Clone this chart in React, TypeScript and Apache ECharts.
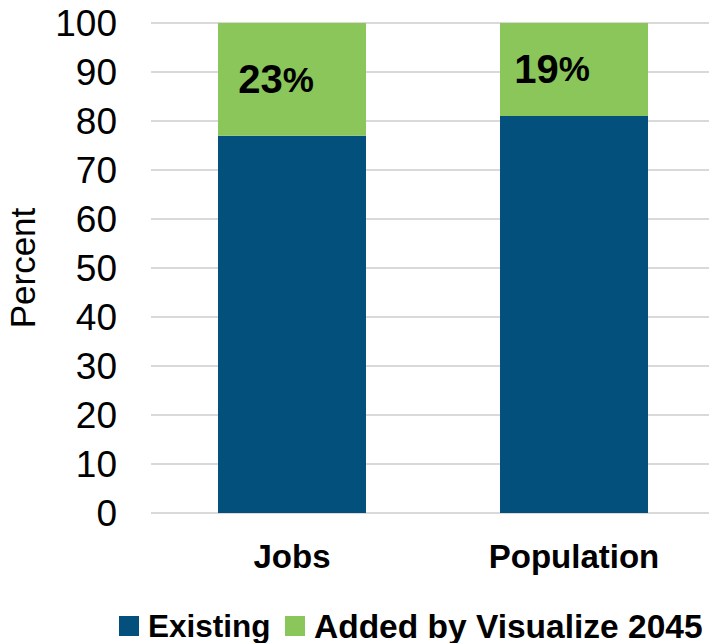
import React, { useEffect, useRef } from "react";
import * as echarts from "echarts";

const categories = ["Jobs", "Population"];
const existing = [77, 81];
const added = [23, 19];
const seriesNames = ["Existing", "Added by Visualize 2045"];
const yMin = 0;
const yMax = 100;
const yInterval = 10;

const BLUE = "#03507C";
const GREEN = "#8BC65B";
const FONT = "'Liberation Sans', Arial, sans-serif";

export default function App() {
  const ref = useRef<HTMLDivElement>(null);
  useEffect(() => {
    document.body.style.margin = "0";
    if (!ref.current) return;
    const chart = echarts.init(ref.current, undefined, { renderer: "svg" });
    const labelOffsets = [
      [-16, 0],
      [-22, -1],
    ];
    const legendBase = {
      top: 609,
      padding: 0,
      itemWidth: 20,
      itemHeight: 20,
      icon: "rect",
      selectedMode: false,
    };
    const legendText = (size: number) => ({
      fontFamily: FONT,
      fontSize: size,
      fontWeight: "bold",
      color: "#000",
      lineHeight: 34,
      padding: [0, 0, 0, 4],
    });
    chart.setOption({
      animation: false,
      textStyle: { fontFamily: FONT },
      grid: {
        left: 151,
        top: 23,
        width: 564,
        height: 490,
        containLabel: false,
        outerBoundsMode: "none",
      },
      legend: [
        { ...legendBase, data: [seriesNames[0]], left: 119, textStyle: legendText(31.5) },
        { ...legendBase, data: [seriesNames[1]], left: 285, textStyle: legendText(33.5) },
      ],
      xAxis: {
        type: "category",
        data: categories,
        axisLine: { show: false },
        axisTick: { show: false },
        axisLabel: {
          margin: 27,
          fontSize: 33,
          fontWeight: "bold",
          color: "#000",
          fontFamily: FONT,
        },
      },
      yAxis: {
        type: "value",
        min: yMin,
        max: yMax,
        interval: yInterval,
        name: "Percent",
        nameLocation: "middle",
        nameRotate: 90,
        nameGap: 111,
        nameTextStyle: { fontSize: 35, color: "#000", fontFamily: FONT },
        axisLine: { show: false },
        axisTick: { show: false },
        axisLabel: { margin: 34, fontSize: 37, color: "#000", fontFamily: FONT },
        splitLine: { lineStyle: { color: "#D9D9D9", width: 2 } },
      },
      series: [
        {
          name: seriesNames[0],
          type: "bar",
          stack: "total",
          barWidth: 148,
          itemStyle: { color: BLUE },
          data: existing,
        },
        {
          name: seriesNames[1],
          type: "bar",
          stack: "total",
          barWidth: 148,
          itemStyle: { color: GREEN },
          data: added.map((v, i) => ({
            value: v,
            label: { offset: labelOffsets[i] },
          })),
          label: {
            show: true,
            position: "inside",
            formatter: (p: any) => `{n|${p.value}}{p|%}`,
            rich: {
              n: { fontSize: 40, fontWeight: "bold", color: "#000", fontFamily: FONT },
              p: { fontSize: 35, fontWeight: "bold", color: "#000", fontFamily: FONT },
            },
          },
        },
      ],
    });
    return () => chart.dispose();
  }, []);
  return <div ref={ref} style={{ width: 709, height: 643 }} />;
}
